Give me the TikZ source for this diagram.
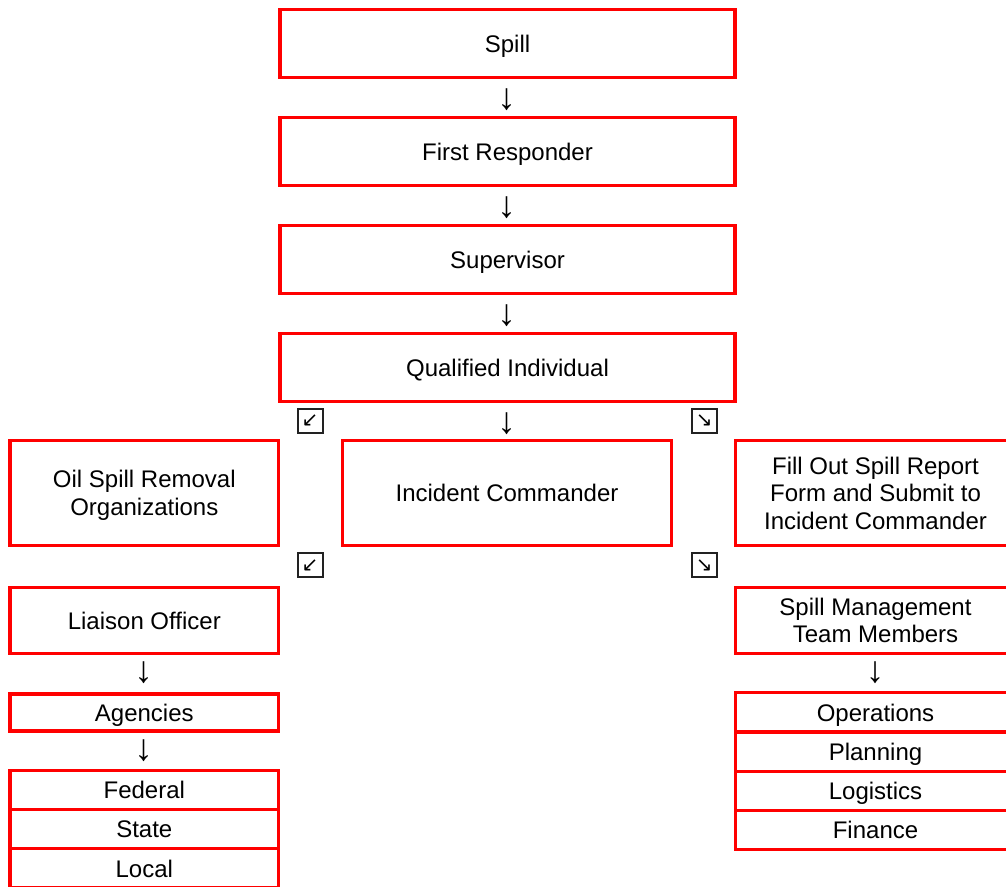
\documentclass[tikz,border=0pt]{standalone}
\usepackage{fontspec}
\setmainfont{Liberation Sans}
\newfontfamily\symfont{DejaVu Sans}
\definecolor{boxred}{RGB}{255,0,0}
\definecolor{markgray}{RGB}{34,34,34}
\tikzset{
  box/.style={draw=boxred, line width=3.2pt, inner sep=0pt, outer sep=0pt,
    align=center, text depth=0pt, font=\fontsize{24}{27.5}\selectfont, text=black},
  row/.style={box, minimum height=39.2pt},
  down/.style={inner sep=0pt, font=\fontsize{37}{37}\selectfont},
  diag/.style={draw=markgray, line width=2pt, minimum width=25pt, minimum height=24pt,
    inner sep=0pt, font=\symfont\fontsize{20}{20}\selectfont},
}
\begin{document}
\begin{tikzpicture}[x=1pt, y=-1pt]
\useasboundingbox (0,0) rectangle (1006,886);
\clip (0,0) rectangle (1006,886);

% main chain
\node[box, minimum width=455pt, minimum height=67.5pt] (spill) at (507.5,43.5) {Spill};
\node[box, minimum width=455pt, minimum height=67.5pt] (first) at (507.5,151.5) {First Responder};
\node[box, minimum width=455pt, minimum height=67.5pt] (super) at (507.5,259.5) {Supervisor};
\node[box, minimum width=455pt, minimum height=67.5pt] (qual) at (507.5,367.5) {Qualified Individual};

\node[down] (a1) at (506.5,100) {↓};
\node[down] (a2) at (506.5,208) {↓};
\node[down] (a3) at (506.5,316) {↓};
\node[down] (a4) at (506.5,424) {↓};

% second row
\node[box, minimum width=268.5pt, minimum height=105pt] (osro) at (144.3,493) {Oil Spill Removal\\Organizations};
\node[box, minimum width=329pt, minimum height=105pt] (ic) at (507,493) {Incident Commander};
\node[box, minimum width=280pt, minimum height=105pt] (report) at (875.5,493) {Fill Out Spill Report\\Form and Submit to\\Incident Commander};

\node[diag] (d1) at (310,421) {↙};
\node[diag] (d2) at (704.3,421) {↘};
\node[diag] (d3) at (310,565.3) {↙};
\node[diag] (d4) at (704.3,565.3) {↘};

% left branch
\node[box, minimum width=268.5pt, minimum height=66pt] (liaison) at (144.3,620.5) {Liaison Officer};
\node[down] (a5) at (143.5,673) {↓};
\node[box, minimum width=268.5pt, minimum height=37pt] (agencies) at (144.3,712.5) {Agencies};
\node[down] (a6) at (143.5,751) {↓};
\node[row, minimum width=268.5pt] (federal) at (144.3,790) {Federal};
\node[row, minimum width=268.5pt] (state) at (144.3,829.2) {State};
\node[row, minimum width=268.5pt] (local) at (144.3,868.4) {Local};

% right branch
\node[box, minimum width=280pt, minimum height=66pt] (smt) at (875.5,620.5) {Spill Management\\Team Members};
\node[down] (a7) at (875,673) {↓};
\node[row, minimum width=280pt] (ops) at (875.5,712.4) {Operations};
\node[row, minimum width=280pt] (plan) at (875.5,751.6) {Planning};
\node[row, minimum width=280pt] (log) at (875.5,790.8) {Logistics};
\node[row, minimum width=280pt] (fin) at (875.5,830) {Finance};
\end{tikzpicture}
\end{document}
